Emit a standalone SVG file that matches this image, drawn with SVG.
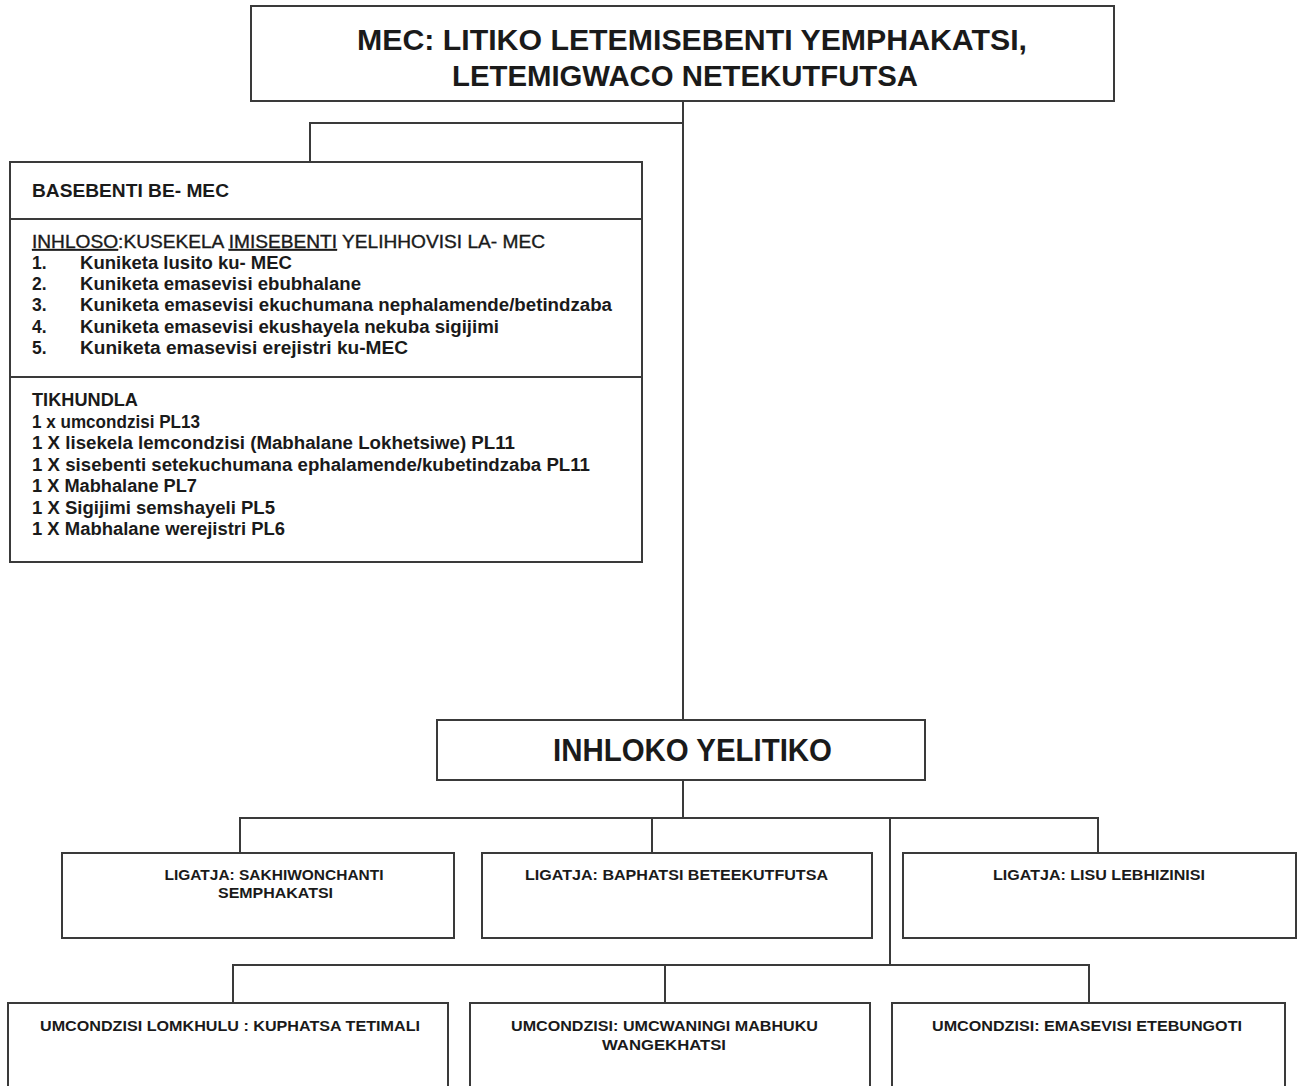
<svg xmlns="http://www.w3.org/2000/svg" width="1303" height="1086" viewBox="0 0 1303 1086">
<style>
.box{fill:#fff;stroke:#3a3a3a;stroke-width:2}
.ln{fill:none;stroke:#3a3a3a;stroke-width:2}
text{font-family:"Liberation Sans",Arial,sans-serif;fill:#1a1a1a;font-weight:bold}
.t1{font-size:29px}
.t2{font-size:31px}
.b{font-size:17.5px}
.s{font-size:14px}
.m{text-anchor:middle}
.u{text-decoration:underline}
</style>
<rect width="1303" height="1086" fill="#fff"/>
<g id="connectors">
<path class="ln" d="M683 101V720"/>
<path class="ln" d="M683 123H310V162"/>
<path class="ln" d="M683 780V818"/>
<path class="ln" d="M240 853V818H1098V853"/>
<path class="ln" d="M652 818V853"/>
<path class="ln" d="M890 818V965"/>
<path class="ln" d="M233 1003V965H1089V1003"/>
<path class="ln" d="M665 965V1003"/>
</g>
<g id="mec">
<rect class="box" x="251" y="6" width="863" height="95"/>
<text class="t1 m" x="692" y="50" textLength="670" lengthAdjust="spacingAndGlyphs">MEC: LITIKO LETEMISEBENTI YEMPHAKATSI,</text>
<text class="t1 m" x="685" y="86" textLength="466" lengthAdjust="spacingAndGlyphs">LETEMIGWACO NETEKUTFUTSA</text>
</g>
<g id="basebenti">
<rect class="box" x="10" y="162" width="632" height="400"/>
<path class="ln" d="M10 219H642M10 377H642"/>
<text class="b" x="32" y="197" textLength="197" lengthAdjust="spacingAndGlyphs">BASEBENTI BE- MEC</text>
<text class="b" x="32" y="248" textLength="513" lengthAdjust="spacingAndGlyphs" style="font-weight:normal;stroke:#1a1a1a;stroke-width:0.35"><tspan class="u">INHLOSO</tspan>:KUSEKELA <tspan class="u">IMISEBENTI</tspan> YELIHHOVISI LA- MEC</text>
<text class="b" x="32" y="269">1.</text>
<text class="b" x="80" y="269" textLength="212" lengthAdjust="spacingAndGlyphs">Kuniketa lusito ku- MEC</text>
<text class="b" x="32" y="290">2.</text>
<text class="b" x="80" y="290" textLength="281" lengthAdjust="spacingAndGlyphs">Kuniketa emasevisi ebubhalane</text>
<text class="b" x="32" y="311">3.</text>
<text class="b" x="80" y="311" textLength="532" lengthAdjust="spacingAndGlyphs">Kuniketa emasevisi ekuchumana nephalamende/betindzaba</text>
<text class="b" x="32" y="332.5">4.</text>
<text class="b" x="80" y="332.5" textLength="419" lengthAdjust="spacingAndGlyphs">Kuniketa emasevisi ekushayela nekuba sigijimi</text>
<text class="b" x="32" y="354">5.</text>
<text class="b" x="80" y="354" textLength="328" lengthAdjust="spacingAndGlyphs">Kuniketa emasevisi erejistri ku-MEC</text>
<text class="b" x="32" y="406" textLength="106" lengthAdjust="spacingAndGlyphs">TIKHUNDLA</text>
<text class="b" x="32" y="427.5" textLength="168" lengthAdjust="spacingAndGlyphs">1 x umcondzisi PL13</text>
<text class="b" x="32" y="449" textLength="483" lengthAdjust="spacingAndGlyphs">1 X lisekela lemcondzisi (Mabhalane Lokhetsiwe) PL11</text>
<text class="b" x="32" y="470.5" textLength="558" lengthAdjust="spacingAndGlyphs">1 X sisebenti setekuchumana ephalamende/kubetindzaba PL11</text>
<text class="b" x="32" y="492" textLength="165" lengthAdjust="spacingAndGlyphs">1 X Mabhalane PL7</text>
<text class="b" x="32" y="513.5" textLength="243" lengthAdjust="spacingAndGlyphs">1 X Sigijimi semshayeli PL5</text>
<text class="b" x="32" y="535" textLength="253" lengthAdjust="spacingAndGlyphs">1 X Mabhalane werejistri PL6</text>
</g>
<g id="inhloko">
<rect class="box" x="437" y="720" width="488" height="60"/>
<text class="t2 m" x="692.5" y="761" textLength="279" lengthAdjust="spacingAndGlyphs">INHLOKO YELITIKO</text>
</g>
<g id="ligatja-sakhiwonchanti">
<rect class="box" x="62" y="853" width="392" height="85"/>
<text class="s m" x="274" y="880" textLength="219" lengthAdjust="spacingAndGlyphs">LIGATJA: SAKHIWONCHANTI</text>
<text class="s m" x="275.5" y="898" textLength="115" lengthAdjust="spacingAndGlyphs">SEMPHAKATSI</text>
</g>
<g id="ligatja-baphatsi">
<rect class="box" x="482" y="853" width="390" height="85"/>
<text class="s m" x="676.5" y="880" textLength="303" lengthAdjust="spacingAndGlyphs">LIGATJA: BAPHATSI BETEEKUTFUTSA</text>
</g>
<g id="ligatja-lisu">
<rect class="box" x="903" y="853" width="393" height="85"/>
<text class="s m" x="1099" y="880" textLength="212" lengthAdjust="spacingAndGlyphs">LIGATJA: LISU LEBHIZINISI</text>
</g>
<g id="umcondzisi-lomkhulu">
<rect class="box" x="8" y="1003" width="440" height="100"/>
<text class="s m" x="230" y="1031" textLength="380" lengthAdjust="spacingAndGlyphs">UMCONDZISI LOMKHULU : KUPHATSA TETIMALI</text>
</g>
<g id="umcondzisi-umcwaningi">
<rect class="box" x="470" y="1003" width="400" height="100"/>
<text class="s m" x="664.5" y="1031" textLength="307" lengthAdjust="spacingAndGlyphs">UMCONDZISI: UMCWANINGI MABHUKU</text>
<text class="s m" x="664" y="1050" textLength="124" lengthAdjust="spacingAndGlyphs">WANGEKHATSI</text>
</g>
<g id="umcondzisi-emasevisi">
<rect class="box" x="892" y="1003" width="393" height="100"/>
<text class="s m" x="1087" y="1031" textLength="310" lengthAdjust="spacingAndGlyphs">UMCONDZISI: EMASEVISI ETEBUNGOTI</text>
</g>
</svg>
